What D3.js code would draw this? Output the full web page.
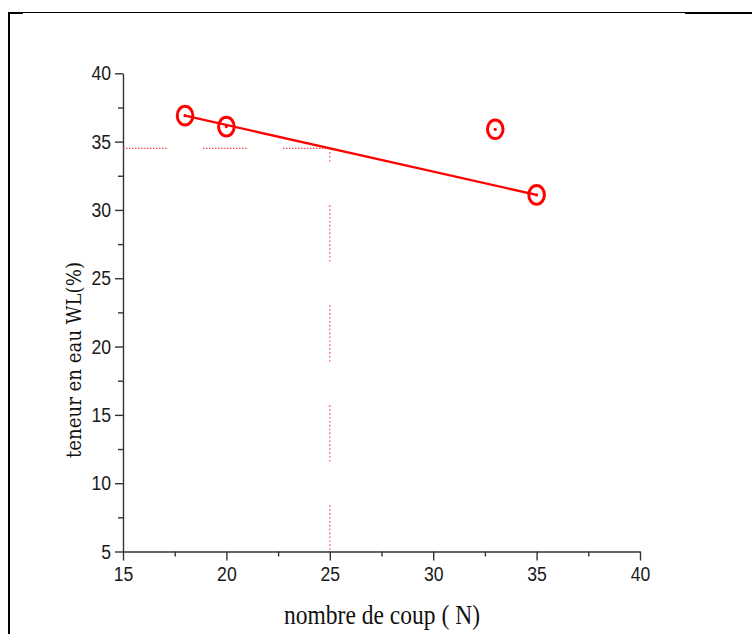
<!DOCTYPE html>
<html>
<head>
<meta charset="utf-8">
<script src="https://cdn.jsdelivr.net/npm/d3@7"></script>
<style>
  html, body { margin: 0; padding: 0; background: #fff; }
  svg { display: block; }
</style>
</head>
<body>
<svg id="chart" width="752" height="634"></svg>
<script>
// Measured samples: number of blows vs. water content
const blows = [18, 20, 33, 35];
const waterContent = [36.9, 36.1, 35.9, 31.1];

// Fitted flow line endpoints
const trendBlows = [18, 35];
const trendWater = [36.9, 31.1];

// Reading at 25 blows (liquid limit)
const refBlows = 25;
const refWater = 34.5;

const xTicks = [15, 20, 25, 30, 35, 40];
const xMinor = [17.5, 22.5, 27.5, 32.5, 37.5];
const yTicks = [5, 10, 15, 20, 25, 30, 35, 40];
const yMinor = [7.5, 12.5, 17.5, 22.5, 27.5, 32.5, 37.5];

const xTitle = "nombre de coup ( N)";
const yTitle = "teneur en eau WL(%)";

const svg = d3.select("#chart");

// Outer frame (top and left edges)
const frame = svg.append("g").attr("stroke", "#000").attr("fill", "none");
frame.append("line").attr("x1", 9).attr("x2", 9).attr("y1", 12).attr("y2", 634).attr("stroke-width", 2);
frame.append("line").attr("x1", 8).attr("x2", 752).attr("y1", 12.5).attr("y2", 12.5).attr("stroke-width", 1);
frame.append("line").attr("x1", 8).attr("x2", 23).attr("y1", 13).attr("y2", 13).attr("stroke-width", 2);
frame.append("line").attr("x1", 685).attr("x2", 752).attr("y1", 13).attr("y2", 13).attr("stroke-width", 2);

const x = d3.scaleLinear().domain([15, 40]).range([123, 640]);
const y = d3.scaleLinear().domain([5, 40]).range([551.5, 73.3]);

const axisColor = "#333";
const labelFont = "'Liberation Sans', Arial, sans-serif";

// X axis
const gx = svg.append("g").attr("transform", `translate(0,${y(5)})`);
gx.call(d3.axisBottom(x).tickValues(xMinor).tickSize(5).tickSizeOuter(0).tickFormat(""));
gx.call(g => g.select(".domain").remove());
const gx2 = svg.append("g").attr("transform", `translate(0,${y(5)})`);
gx2.call(d3.axisBottom(x).tickValues(xTicks).tickSize(9).tickSizeOuter(0).tickPadding(6).tickFormat(d3.format("d")));

// Y axis
const gy = svg.append("g").attr("transform", `translate(${x(15)},0)`);
gy.call(d3.axisLeft(y).tickValues(yMinor).tickSize(5).tickSizeOuter(0).tickFormat(""));
gy.call(g => g.select(".domain").remove());
const gy2 = svg.append("g").attr("transform", `translate(${x(15)},0)`);
gy2.call(d3.axisLeft(y).tickValues(yTicks).tickSize(8).tickSizeOuter(0).tickPadding(4).tickFormat(d3.format("d")));

svg.selectAll(".domain, .tick line").attr("stroke", axisColor).attr("stroke-width", 1.4);
svg.selectAll(".tick text")
  .attr("font-family", labelFont)
  .attr("font-size", 20.5)
  .attr("fill", "#1a1a1a");
// narrow the digits slightly
gx2.selectAll(".tick text").attr("transform", "scale(0.86,1)").attr("x", 0);
gy2.selectAll(".tick text").each(function () {
  const t = d3.select(this);
  const xx = +t.attr("x");
  t.attr("transform", `translate(${xx},0) scale(0.86,1)`).attr("x", 0);
});

// Dotted dash pattern: long dashes made of fine dots
function dottedDash(dash, gap, dot, space) {
  const out = [];
  let len = 0;
  while (len + dot <= dash) {
    out.push(dot);
    len += dot;
    if (len + space + dot <= dash) { out.push(space); len += space; }
    else break;
  }
  out.push(gap + (dash - len));
  return out.join(" ");
}

const guide = svg.append("g")
  .attr("stroke", "#ff2a2a")
  .attr("stroke-opacity", 0.85)
  .attr("stroke-width", 1.2)
  .attr("fill", "none");

guide.append("line")
  .attr("x1", x(15)).attr("x2", x(refBlows))
  .attr("y1", y(refWater)).attr("y2", y(refWater))
  .attr("stroke-dasharray", dottedDash(45, 35, 1.5, 1.5));

guide.append("line")
  .attr("x1", x(refBlows)).attr("x2", x(refBlows))
  .attr("y1", y(5)).attr("y2", y(refWater))
  .attr("stroke-dasharray", dottedDash(59, 41, 1.6, 2.3))
  .attr("stroke-dashoffset", 10);

// Fitted line
const red = "#ff0000";
svg.append("path")
  .datum(trendBlows.map((n, i) => [n, trendWater[i]]))
  .attr("d", d3.line().x(d => x(d[0])).y(d => y(d[1])))
  .attr("stroke", red)
  .attr("stroke-width", 2.3)
  .attr("fill", "none");

// Sample markers: open circles with a centre dot
const pts = blows.map((n, i) => ({ n, w: waterContent[i] }));
const mk = svg.append("g");
mk.selectAll("ellipse").data(pts).join("ellipse")
  .attr("cx", d => x(d.n)).attr("cy", d => y(d.w))
  .attr("rx", 7.8).attr("ry", 9.3)
  .attr("fill", "none").attr("stroke", red).attr("stroke-width", 3);
mk.selectAll("circle").data(pts).join("circle")
  .attr("cx", d => x(d.n)).attr("cy", d => y(d.w))
  .attr("r", 1.6).attr("fill", red);

// Axis titles
svg.append("text")
  .attr("x", 382).attr("y", 624)
  .attr("text-anchor", "middle")
  .attr("font-family", "'Liberation Serif', 'Times New Roman', serif")
  .attr("font-size", 28)
  .attr("textLength", 196)
  .attr("lengthAdjust", "spacingAndGlyphs")
  .attr("fill", "#111")
  .text(xTitle);

svg.append("text")
  .attr("transform", "translate(81,360) rotate(-90)")
  .attr("text-anchor", "middle")
  .attr("font-family", "'DejaVu Serif', serif")
  .attr("font-size", 21)
  .attr("textLength", 196)
  .attr("lengthAdjust", "spacingAndGlyphs")
  .attr("fill", "#111")
  .text(yTitle);
</script>
</body>
</html>
